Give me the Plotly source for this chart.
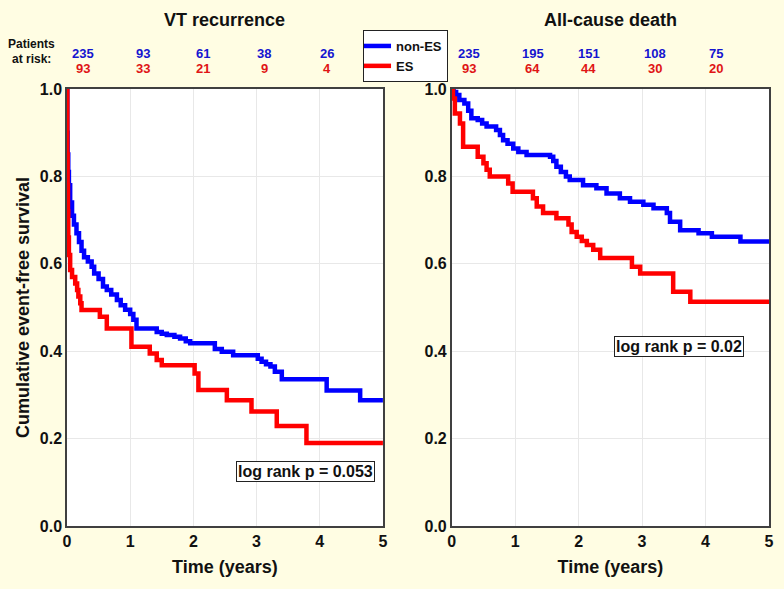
import plotly.graph_objects as go

# VT recurrence
vt_nones_t = [0, 0.005, 0.01, 0.02, 0.03, 0.05, 0.08, 0.11, 0.15, 0.19, 0.23, 0.27, 0.33, 0.39, 0.43, 0.50, 0.57, 0.63, 0.70, 0.79, 0.85, 0.92, 1.0, 1.05, 1.10, 1.42, 1.50, 1.58, 1.70, 1.79, 1.88, 1.95, 2.34, 2.45, 2.63, 3.02, 3.08, 3.15, 3.22, 3.29, 3.40, 4.11, 4.64, 5.0]
vt_nones_s = [1.0, 0.90, 0.85, 0.81, 0.78, 0.74, 0.71, 0.69, 0.67, 0.65, 0.63, 0.615, 0.605, 0.593, 0.578, 0.565, 0.548, 0.54, 0.53, 0.517, 0.505, 0.495, 0.485, 0.472, 0.452, 0.444, 0.44, 0.437, 0.433, 0.429, 0.423, 0.418, 0.405, 0.399, 0.391, 0.383, 0.376, 0.37, 0.365, 0.353, 0.336, 0.31, 0.288, 0.288]
vt_es_t = [0, 0.005, 0.01, 0.015, 0.02, 0.03, 0.05, 0.08, 0.13, 0.16, 0.18, 0.21, 0.23, 0.52, 0.63, 1.02, 1.31, 1.42, 1.50, 2.02, 2.08, 2.53, 2.92, 3.32, 3.79, 5.0]
vt_es_s = [1.0, 0.85, 0.78, 0.72, 0.66, 0.62, 0.586, 0.57, 0.555, 0.54, 0.525, 0.51, 0.494, 0.479, 0.452, 0.41, 0.395, 0.38, 0.368, 0.349, 0.311, 0.288, 0.262, 0.229, 0.19, 0.19]

# All-cause death
ac_nones_t = [0, 0.03, 0.07, 0.12, 0.2, 0.26, 0.31, 0.41, 0.48, 0.55, 0.70, 0.76, 0.81, 0.88, 0.97, 1.05, 1.18, 1.55, 1.60, 1.65, 1.72, 1.80, 1.86, 2.07, 2.28, 2.44, 2.65, 2.81, 3.02, 3.18, 3.39, 3.44, 3.60, 3.89, 4.10, 4.55, 5.0]
ac_nones_s = [1.0, 0.993, 0.986, 0.975, 0.967, 0.95, 0.933, 0.929, 0.921, 0.914, 0.906, 0.895, 0.883, 0.875, 0.864, 0.856, 0.849, 0.845, 0.835, 0.822, 0.81, 0.8, 0.792, 0.78, 0.773, 0.761, 0.75, 0.742, 0.735, 0.727, 0.716, 0.696, 0.677, 0.670, 0.662, 0.651, 0.651]
ac_es_t = [0, 0.02, 0.05, 0.13, 0.18, 0.41, 0.50, 0.55, 0.60, 0.89, 0.96, 1.28, 1.34, 1.44, 1.65, 1.84, 1.89, 1.97, 2.05, 2.13, 2.23, 2.34, 2.84, 2.97, 3.49, 3.76, 5.0]
ac_es_s = [1.0, 0.978, 0.944, 0.921, 0.868, 0.845, 0.83, 0.815, 0.8, 0.784, 0.765, 0.75, 0.731, 0.716, 0.704, 0.69, 0.673, 0.662, 0.652, 0.643, 0.632, 0.613, 0.593, 0.578, 0.536, 0.513, 0.513]

# Patients at risk
risk_x = [0.25, 1.2, 2.15, 3.12, 4.12]
vt_risk_nones = [235, 93, 61, 38, 26]
vt_risk_es = [93, 33, 21, 9, 4]
ac_risk_x = [0.28, 1.28, 2.16, 3.2, 4.16]
ac_risk_nones = [235, 195, 151, 108, 75]
ac_risk_es = [93, 64, 44, 30, 20]

BLUE = "#0000FF"
RED = "#FF0000"
TXT_BLUE = "#1515D0"
TXT_RED = "#E01515"
FONT = "Arial, Liberation Sans, sans-serif"
BG = "#FFFDE3"
INK = "#111111"

fig = go.Figure()
fig.add_trace(go.Scatter(x=vt_nones_t, y=vt_nones_s, mode="lines", line=dict(color=BLUE, width=4.5, shape="hv"),
                         name="non-ES", xaxis="x", yaxis="y"))
fig.add_trace(go.Scatter(x=vt_es_t, y=vt_es_s, mode="lines", line=dict(color=RED, width=4.5, shape="hv"),
                         name="ES", xaxis="x", yaxis="y"))
fig.add_trace(go.Scatter(x=ac_nones_t, y=ac_nones_s, mode="lines", line=dict(color=BLUE, width=4.5, shape="hv"),
                         name="non-ES", showlegend=False, xaxis="x2", yaxis="y2"))
fig.add_trace(go.Scatter(x=ac_es_t, y=ac_es_s, mode="lines", line=dict(color=RED, width=4.5, shape="hv"),
                         name="ES", showlegend=False, xaxis="x2", yaxis="y2"))

tickfont = dict(family=FONT, size=16, color=INK, weight=700)
axis_common = dict(range=[0, 5], tickvals=[0, 1, 2, 3, 4, 5], showgrid=True, gridcolor="#E8E8E8", gridwidth=1,
                   showline=True, linecolor="#404040", linewidth=1.5, mirror=True, zeroline=False,
                   ticks="", tickfont=tickfont, automargin=False,
                   title=dict(text="Time (years)", font=dict(family=FONT, size=18, color=INK, weight=700), standoff=11))
yaxis_common = dict(range=[0, 1], tickvals=[0, 0.2, 0.4, 0.6, 0.8, 1.0], tickformat=".1f", showgrid=True,
                    gridcolor="#E8E8E8", gridwidth=1, showline=True, linecolor="#404040", linewidth=1.5,
                    mirror=True, zeroline=False, ticks="", tickfont=tickfont, automargin=False)

annotations = []
annotations.append(dict(text="VT recurrence", xref="x", yref="paper", x=2.5, y=1.158, showarrow=False,
                        font=dict(family=FONT, size=18, color=INK, weight=700), xanchor="center", yanchor="middle"))
annotations.append(dict(text="All-cause death", xref="x2", yref="paper", x=2.5, y=1.158, showarrow=False,
                        font=dict(family=FONT, size=18, color=INK, weight=700), xanchor="center", yanchor="middle"))
annotations.append(dict(text="Patients", xref="paper", yref="paper", x=-0.05, y=1.103, showarrow=False,
                        font=dict(family=FONT, size=12, color=INK, weight=700), xanchor="center", yanchor="middle"))
annotations.append(dict(text="at risk:", xref="paper", yref="paper", x=-0.05, y=1.069, showarrow=False,
                        font=dict(family=FONT, size=12, color=INK, weight=700), xanchor="center", yanchor="middle"))
for xv, a, b in zip(risk_x, vt_risk_nones, vt_risk_es):
    annotations.append(dict(text=str(a), xref="x", yref="paper", x=xv, y=1.103, showarrow=False,
                            font=dict(family=FONT, size=13, color=TXT_BLUE, weight=700)))
    annotations.append(dict(text=str(b), xref="x", yref="paper", x=xv, y=1.069, showarrow=False,
                            font=dict(family=FONT, size=13, color=TXT_RED, weight=700)))
for xv, a, b in zip(ac_risk_x, ac_risk_nones, ac_risk_es):
    annotations.append(dict(text=str(a), xref="x2", yref="paper", x=xv, y=1.103, showarrow=False,
                            font=dict(family=FONT, size=13, color=TXT_BLUE, weight=700)))
    annotations.append(dict(text=str(b), xref="x2", yref="paper", x=xv, y=1.069, showarrow=False,
                            font=dict(family=FONT, size=13, color=TXT_RED, weight=700)))
annotations.append(dict(text="log rank p = 0.053", xref="x", yref="y", x=3.78, y=0.124, showarrow=False,
                        font=dict(family=FONT, size=16, color=INK, weight=700), bordercolor="#222222",
                        borderwidth=1, borderpad=1, bgcolor="white"))
annotations.append(dict(text="log rank p = 0.02", xref="x2", yref="y2", x=3.58, y=0.41, showarrow=False,
                        font=dict(family=FONT, size=16, color=INK, weight=700), bordercolor="#222222",
                        borderwidth=1, borderpad=1, bgcolor="white"))

fig.update_layout(
    width=784, height=589,
    margin=dict(l=67, r=15, t=89, b=63),
    paper_bgcolor=BG, plot_bgcolor="white",
    font=dict(family=FONT, color=INK),
    xaxis=dict(domain=[0, 0.450], anchor="y", **axis_common),
    yaxis=dict(domain=[0, 1], anchor="x",
               title=dict(text="Cumulative event-free survival", font=dict(family=FONT, size=18, color=INK, weight=700), standoff=5),
               **yaxis_common),
    xaxis2=dict(domain=[0.548, 1], anchor="y2", **axis_common),
    yaxis2=dict(domain=[0, 1], anchor="x2", **yaxis_common),
    legend=dict(x=0.4217, y=1.135, xanchor="left", yanchor="top", bgcolor="white", bordercolor="#222222",
                borderwidth=1, font=dict(family=FONT, size=13, color=INK, weight=700),
                tracegroupgap=0, itemwidth=30, indentation=-8),
    annotations=annotations,
    showlegend=True,
)

fig.write_html("out.html", config={"displayModeBar": False},
               post_script="document.body.style.margin='0';document.body.style.padding='0';document.body.style.overflow='hidden';")
